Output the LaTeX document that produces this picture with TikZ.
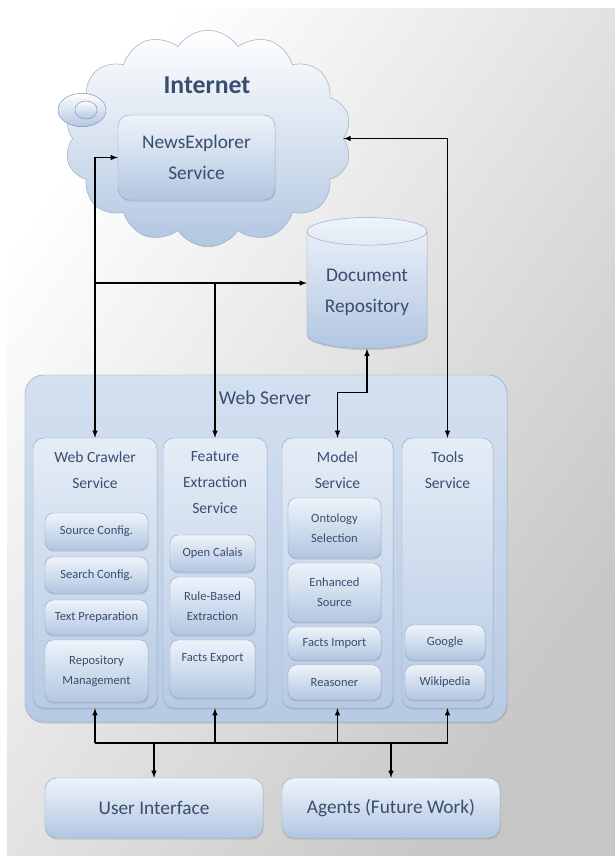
\documentclass[tikz,border=0pt]{standalone}
\usepackage{fontspec}
\setmainfont{Carlito}
\usepackage{tikz}
\usetikzlibrary{arrows,calc,shapes.symbols,shapes.geometric,shadows}
\definecolor{txtblue}{HTML}{3A4D6F}
\definecolor{lineblue}{HTML}{94A9C7}
\definecolor{paleblue}{HTML}{EEF3FA}
\definecolor{midblue}{HTML}{B2C6E1}
\definecolor{srvtop}{HTML}{D3E0F0}
\definecolor{srvbot}{HTML}{B7CAE4}
\tikzstyle{boxshadow} = [drop shadow={opacity=0.25, shadow xshift=0.6pt, shadow yshift=-1.4pt}]
\tikzstyle{bigbox} = [draw=lineblue, rounded corners=10pt, top color=paleblue, bottom color=midblue, text=txtblue, align=center, inner sep=0pt, font=\fontsize{16.5}{27}\selectfont, boxshadow]
\tikzstyle{colbox} = [draw=lineblue, rounded corners=9pt, top color=srvtop!60!white, bottom color=srvbot, minimum height=8.1cm, boxshadow]
\tikzstyle{coltitle} = [text=txtblue, align=center, anchor=north, font=\fontsize{13.3}{22}\selectfont]
\tikzstyle{subbox} = [draw=lineblue, rounded corners=7pt, top color=paleblue, bottom color=midblue, text=txtblue, align=center, inner sep=0pt, font=\fontsize{10.7}{17}\selectfont, boxshadow]
\tikzstyle{link} = [black, line width=1.1pt]

\begin{document}
\begin{tikzpicture}[x=0.03cm, y=-0.03cm, >=latex]
  \useasboundingbox (0,0) rectangle (615,858);
  \shade[top color=white, bottom color=gray!45, shading angle=55] (7,8) rectangle (615,855);

  % internet cloud
  \node[cloud, cloud puffs=14, cloud puff arc=115, cloud ignores aspect, minimum width=8.6cm, minimum height=6.5cm,
        draw=lineblue, top color=white, bottom color=midblue] (cloud) at (208,138.5) {};
  \filldraw[draw=lineblue, top color=white, bottom color=midblue] (82,110) ellipse [x radius=0.72cm, y radius=0.5cm];
  \filldraw[draw=lineblue, top color=white, bottom color=midblue] (86,110) ellipse [x radius=0.33cm, y radius=0.27cm];
  \node[text=txtblue, font=\fontsize{22}{26}\selectfont\bfseries] (inet) at (207,85) {Internet};
  \node[bigbox, minimum width=4.71cm, minimum height=2.55cm] (news) at (196.5,157.5) {NewsExplorer\\Service};

  % repository
  \node[cylinder, shape border rotate=90, aspect=0.3, minimum width=3.6cm, minimum height=3.93cm,
        draw=lineblue, top color=paleblue, bottom color=midblue, text=txtblue, align=center,
        font=\fontsize{16.5}{27}\selectfont, boxshadow] (repo) at (367,292.5) {Document\\Repository};

  % web server
  \node[draw=lineblue, rounded corners=16pt, top color=srvtop, bottom color=srvbot,
        minimum width=14.46cm, minimum height=10.41cm, boxshadow] (server) at (266,548.5) {};
  \node[text=txtblue, font=\fontsize{16.7}{20}\selectfont] (servert) at (265,398) {Web Server};

  \node[colbox, minimum width=3.72cm] (crawler) at (95,573) {};
  \node[colbox, minimum width=3.12cm] (feature) at (215,573) {};
  \node[colbox, minimum width=3.33cm] (model) at (337.5,573) {};
  \node[colbox, minimum width=2.73cm] (tools) at (447.5,573) {};
  \node[coltitle] (crawlert) at ($(crawler.north)+(0,10)$) {Web Crawler\\Service};
  \node[coltitle] (featuret) at ($(feature.north)+(0,10)$) {Feature\\Extraction\\Service};
  \node[coltitle] (modelt) at ($(model.north)+(0,10)$) {Model\\Service};
  \node[coltitle] (toolst) at ($(tools.north)+(0,10)$) {Tools\\Service};

  \node[subbox, minimum width=3.09cm, minimum height=1.11cm] (srccfg) at (96.5,531.5) {Source Config.};
  \node[subbox, minimum width=3.09cm, minimum height=1.08cm] (srchcfg) at (96.5,575) {Search Config.};
  \node[subbox, minimum width=3.09cm, minimum height=1.05cm] (textprep) at (96.5,617.5) {Text Preparation};
  \node[subbox, minimum width=3.09cm, minimum height=1.86cm] (repomgmt) at (96.5,671) {Repository\\Management};

  \node[subbox, minimum width=2.55cm, minimum height=1.11cm] (calais) at (212.5,553.5) {Open Calais};
  \node[subbox, minimum width=2.55cm, minimum height=1.74cm] (rulebased) at (212.5,606) {Rule-Based\\Extraction};
  \node[subbox, minimum width=2.55cm, minimum height=1.74cm, text height=8pt, text depth=20pt] (factsexp) at (212.5,669) {Facts Export};

  \node[subbox, minimum width=2.79cm, minimum height=1.8cm] (ontology) at (334.5,528) {Ontology\\Selection};
  \node[subbox, minimum width=2.79cm, minimum height=1.77cm] (enhanced) at (334.5,592.5) {Enhanced\\Source};
  \node[subbox, minimum width=2.79cm, minimum height=0.99cm] (factsimp) at (334.5,643.5) {Facts Import};
  \node[subbox, minimum width=2.79cm, minimum height=1.05cm] (reasoner) at (334.5,682.5) {Reasoner};

  \node[subbox, minimum width=2.4cm, minimum height=1.05cm] (google) at (445,642.5) {Google};
  \node[subbox, minimum width=2.4cm, minimum height=1.05cm] (wiki) at (445,682.5) {Wikipedia};

  % clients
  \node[bigbox, minimum width=6.54cm, minimum height=1.8cm] (ui) at (154,808) {User Interface};
  \node[bigbox, minimum width=6.54cm, minimum height=1.8cm] (agents) at (391,808) {Agents (Future Work)};

  % connections
  \coordinate (repoin) at (repo.shape center -| repo.west);
  \draw[link, <->] (crawler.north) |- (news.west);
  \draw[link, ->] (crawler.north |- repoin) -- (repoin);
  \draw[link, ->] (feature.north |- repoin) -- (feature.north);
  \draw[link, <->] (tools.north) |- (cloud.east);
  \draw[link, <->] (repo.south) -- ++(0,44) -| (model.north);

  \coordinate (bus) at (0,743);
  \draw[link] (crawler.south |- bus) -- (tools.south |- bus);
  \foreach \c in {crawler,feature,model,tools}
    \draw[link, ->] (\c.south |- bus) -- (\c.south);
  \draw[link, ->] (ui.north |- bus) -- (ui.north);
  \draw[link, ->] (agents.north |- bus) -- (agents.north);
\end{tikzpicture}
\end{document}
